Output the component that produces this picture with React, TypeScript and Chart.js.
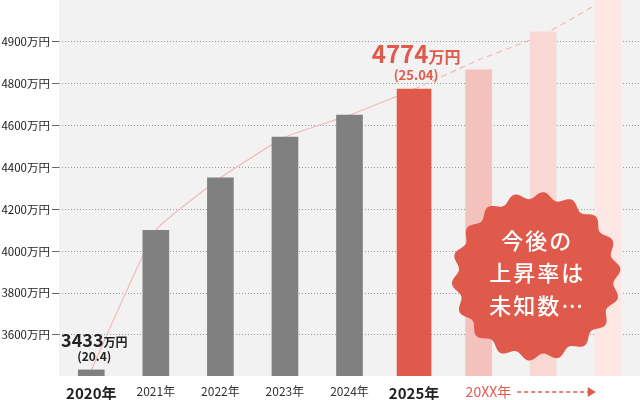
import { useEffect, useRef } from 'react';
import Chart from 'chart.js/auto';

const years = ['2020年', '2021年', '2022年', '2023年', '2024年', '2025年', '20XX年', '20XX年', '20XX年'];
const incomes = [3433, 4100, 4350, 4545, 4650, 4774, 4833, 4924, 5050];
const trend = [3433, 4100, 4350, 4545, 4650, 4774, 4857, 4917, 5005];
const yTicks = [3600, 3800, 4000, 4200, 4400, 4600, 4800, 4900];
const barColors = ['#808080', '#808080', '#808080', '#808080', '#808080', '#e05a4c', '#f4c2bc', '#f9d8d4', '#fce7e5'];
const highlightIdx = [0, 5];
const ratios = ['(20.4)', '(25.04)'];
const badgeLines = ['今後の', '上昇率は', '未知数…'];

const FONT = '"Noto Sans CJK JP", "Noto Sans", sans-serif';
const RED = '#e05a4c';
const Y_MIN = -0.98;

// the axis is evenly spaced per tick, though the ticks are not evenly valued
const toAxis = (v) => {
  const t = yTicks;
  let i = 0;
  if (v >= t[t.length - 1]) i = t.length - 2;
  else if (v > t[0]) while (v > t[i + 1]) i++;
  return i + (v - t[i]) / (t[i + 1] - t[i]);
};

const overlay = {
  id: 'overlay',
  beforeDraw(chart) {
    const { ctx, chartArea: a } = chart;
    ctx.save();
    ctx.fillStyle = '#f2f2f2';
    ctx.fillRect(a.left, a.top, chart.width - a.left, a.bottom - a.top);
    ctx.restore();
  },
  afterDraw(chart) {
    const { ctx } = chart;
    const xs = chart.scales.x;
    const ys = chart.scales.y;
    ctx.save();

    // value labels above highlighted bars
    highlightIdx.forEach((idx, k) => {
      const x = xs.getPixelForValue(idx) + (idx === 0 ? 3 : 2);
      const top = ys.getPixelForValue(toAxis(incomes[idx]));
      const big = idx === 5;
      const color = big ? RED : '#222';
      const numFont = `bold ${big ? 24 : 18}px ${FONT}`;
      const unitFont = `bold ${big ? 16 : 12}px ${FONT}`;
      const num = String(incomes[idx]);
      ctx.font = numFont;
      const wn = ctx.measureText(num).width;
      ctx.font = unitFont;
      const wu = ctx.measureText('万円').width;
      const left = x - (wn + wu) / 2;
      const base = top - (big ? 26 : 23);
      ctx.fillStyle = color;
      ctx.textAlign = 'left';
      ctx.textBaseline = 'alphabetic';
      ctx.font = numFont;
      ctx.fillText(num, left, base);
      ctx.font = unitFont;
      ctx.fillText('万円', left + wn, base);
      ctx.font = `bold ${big ? 13 : 12}px ${FONT}`;
      ctx.textAlign = 'center';
      ctx.textBaseline = 'middle';
      ctx.fillText(ratios[k], x, top - (big ? 14 : 13));
    });

    // future label and arrow
    const fx = xs.getPixelForValue(6) - 13;
    const ly = 392;
    ctx.font = `14px ${FONT}`;
    ctx.fillStyle = RED;
    ctx.textAlign = 'left';
    ctx.textBaseline = 'middle';
    ctx.fillText(years[6], fx, ly);
    const ax0 = fx + ctx.measureText(years[6]).width + 6;
    const tip = xs.getPixelForValue(8) - 12;
    ctx.strokeStyle = RED;
    ctx.lineWidth = 1.3;
    ctx.setLineDash([4, 3]);
    ctx.beginPath();
    ctx.moveTo(ax0, ly);
    ctx.lineTo(tip - 7, ly);
    ctx.stroke();
    ctx.setLineDash([]);
    ctx.beginPath();
    ctx.moveTo(tip - 8, ly - 5);
    ctx.lineTo(tip, ly);
    ctx.lineTo(tip - 8, ly + 5);
    ctx.closePath();
    ctx.fill();

    // starburst badge
    const cx = xs.getPixelForValue(7) - 7;
    const cy = ys.getPixelForValue(toAxis(3880));
    ctx.beginPath();
    for (let k = 0; k <= 720; k++) {
      const th = (k / 720) * Math.PI * 2;
      const r = 81 + 3.5 * Math.cos(18 * th + Math.PI / 2);
      const px = cx + r * Math.cos(th);
      const py = cy + r * Math.sin(th);
      if (k === 0) ctx.moveTo(px, py);
      else ctx.lineTo(px, py);
    }
    ctx.closePath();
    ctx.fillStyle = RED;
    ctx.fill();
    ctx.fillStyle = '#fff';
    ctx.font = `500 22px ${FONT}`;
    ctx.textAlign = 'center';
    ctx.textBaseline = 'middle';
    ctx.letterSpacing = '2px';
    badgeLines.forEach((line, i) => {
      ctx.fillText(line, cx + 1, cy - 36 + i * 32.5);
    });
    ctx.restore();
  },
};

const IncomeChart = () => {
  const chartRef = useRef(null);
  const chartInstance = useRef(null);

  useEffect(() => {
    if (chartInstance.current) {
      chartInstance.current.destroy();
    }
    const ctx = chartRef.current.getContext('2d');
    const pastBars = incomes.map((v, i) => (i === 5 ? null : toAxis(v)));
    const mainBar = incomes.map((v, i) => (i === 5 ? toAxis(v) : null));

    chartInstance.current = new Chart(ctx, {
      type: 'bar',
      data: {
        labels: years,
        datasets: [
          {
            data: pastBars,
            backgroundColor: barColors,
            barThickness: 26,
            base: Y_MIN,
            grouped: false,
            order: 0,
          },
          {
            data: mainBar,
            backgroundColor: barColors,
            barThickness: 34,
            base: Y_MIN,
            grouped: false,
            order: 0,
          },
          {
            type: 'line',
            data: trend.map(toAxis),
            borderColor: '#f4b8b8',
            borderWidth: 1.2,
            pointRadius: 0,
            tension: 0.12,
            order: 1,
            segment: {
              borderDash: (c) => (c.p0DataIndex >= 5 ? [6, 4] : undefined),
            },
          },
        ],
      },
      options: {
        animation: false,
        responsive: true,
        maintainAspectRatio: false,
        layout: { padding: 0 },
        plugins: { legend: { display: false }, tooltip: { enabled: false } },
        scales: {
          x: {
            grid: { display: false, drawTicks: false },
            border: { display: false },
            afterFit: (s) => {
              s.height = 24;
              s.paddingLeft = 0;
              s.paddingRight = 0;
            },
            ticks: {
              padding: 8,
              autoSkip: false,
              maxRotation: 0,
              callback: (v, i) => (i >= 6 ? '' : years[i]),
              color: (c) => (highlightIdx.includes(c.index) ? '#222' : '#333'),
              font: (c) =>
                highlightIdx.includes(c.index)
                  ? { family: FONT, size: 15, weight: 'bold' }
                  : { family: FONT, size: 12 },
            },
          },
          y: {
            min: Y_MIN,
            max: 8,
            afterFit: (s) => {
              s.width = 59;
              s.paddingTop = 0;
              s.paddingBottom = 0;
            },
            afterBuildTicks: (s) => {
              s.ticks = yTicks.map((_, i) => ({ value: i }));
            },
            border: { display: false, dash: [1, 2] },
            grid: {
              color: '#9a9a9a',
              tickColor: '#666',
              tickLength: 7,
              tickBorderDash: [],
            },
            ticks: {
              padding: 2,
              color: '#222',
              font: { family: FONT, size: 11.5 },
              callback: (v, i) => yTicks[i] + '万円',
            },
          },
        },
      },
      plugins: [overlay],
    });

    return () => {
      if (chartInstance.current) {
        chartInstance.current.destroy();
      }
    };
  }, []);

  return (
    <div style={{ position: 'fixed', left: 0, top: 0, width: 640, height: 400, background: '#fff' }}>
      <canvas ref={chartRef}></canvas>
    </div>
  );
};

export default IncomeChart;
